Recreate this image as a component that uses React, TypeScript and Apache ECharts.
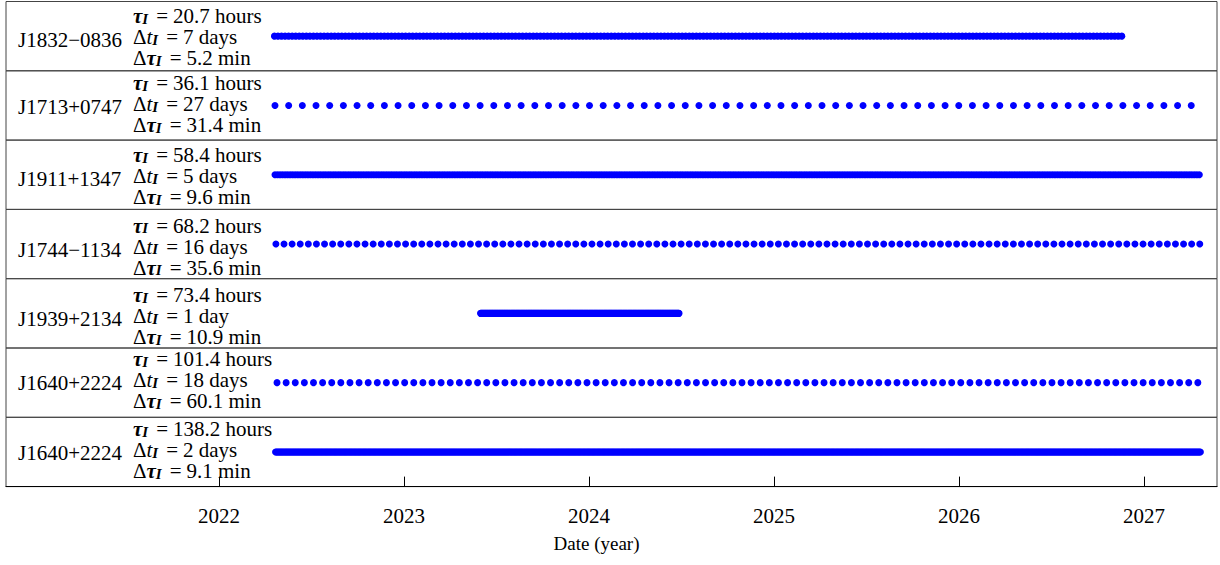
import React, { useEffect, useRef } from "react";
import * as echarts from "echarts";

// ---- data ----
const pulsars = ["J1832−0836", "J1713+0747", "J1911+1347", "J1744−1134", "J1939+2134", "J1640+2224", "J1640+2224"];
const tauHours = ["20.7", "36.1", "58.4", "68.2", "73.4", "101.4", "138.2"];
const cadenceDays = [7, 27, 5, 16, 1, 18, 2];
const cadenceText = ["7 days", "27 days", "5 days", "16 days", "1 day", "18 days", "2 days"];
const dTauMin = ["5.2", "31.4", "9.6", "35.6", "10.9", "60.1", "9.1"];
const startYear = [2022.3, 2022.303, 2022.303, 2022.308, 2023.414, 2022.314, 2022.306];
const endYear = [2026.895, 2027.303, 2027.305, 2027.305, 2024.489, 2027.305, 2027.31];
const tickYears = [2022, 2023, 2024, 2025, 2026, 2027];
const xMin = 2020.849;
const xMax = 2027.395;

// ---- layout ----
const FONT = "Liberation Serif";
const FS = 21;
const LH = 20;
const GRID_LEFT = 6;
const GRID_RIGHT = 3;
const TOP0 = 1.5;
const ROW_H = 69.3;
const textMidY = [37.3, 104, 176, 246.7, 316, 380, 450];

function schedule(i: number): number[][] {
  const pts: number[][] = [];
  const step = cadenceDays[i] / 365.25;
  for (let t = startYear[i]; t <= endYear[i] + 1e-9; t += step) {
    pts.push([t, 0.5]);
  }
  return pts;
}

export default function App() {
  const ref = useRef<HTMLDivElement>(null);
  useEffect(() => {
    if (!ref.current) return;
    const chart = echarts.init(ref.current, null, { renderer: "svg" });
    const n = pulsars.length;
    const grids: any[] = [];
    const xAxes: any[] = [];
    const yAxes: any[] = [];
    const series: any[] = [];
    for (let i = 0; i < n; i++) {
      const last = i === n - 1;
      grids.push({
        left: GRID_LEFT,
        right: GRID_RIGHT,
        top: TOP0 + i * ROW_H,
        height: ROW_H,
        show: true,
        borderColor: "#444",
        borderWidth: 1,
        containLabel: false,
      });
      xAxes.push({
        type: "value",
        gridIndex: i,
        min: xMin,
        max: xMax,
        splitLine: { show: false },
        axisLine: { show: last, lineStyle: { color: "#000", width: 1.2 } },
        axisTick: {
          show: last,
          inside: true,
          length: 10,
          customValues: tickYears,
          lineStyle: { color: "#000", width: 1 },
        },
        axisLabel: {
          show: last,
          customValues: tickYears,
          margin: 19,
          fontSize: FS,
          fontFamily: FONT,
          color: "#000",
          formatter: (v: number) => String(Math.round(v)),
        },
        name: last ? "Date (year)" : "",
        nameLocation: "middle",
        nameGap: 47,
        nameTextStyle: { fontSize: 19, fontFamily: FONT, color: "#000", padding: [0, 30, 0, 0] },
      });
      yAxes.push({ type: "value", gridIndex: i, min: 0, max: 1, show: false });
      series.push({
        type: "scatter",
        xAxisIndex: i,
        yAxisIndex: i,
        data: schedule(i),
        symbol: "circle",
        symbolSize: 7,
        itemStyle: { color: "#0000ff", opacity: 1 },
        silent: true,
      });
    }

    const rich = {
      tau: { fontSize: FS, fontFamily: FONT, fontStyle: "italic", fontWeight: "bold", fill: "#000", lineHeight: LH },
      it: { fontSize: FS, fontFamily: FONT, fontStyle: "italic", fill: "#000", lineHeight: LH },
      sub: {
        fontSize: 15,
        fontFamily: FONT,
        fontStyle: "italic",
        fontWeight: "bold",
        fill: "#000",
        verticalAlign: "bottom",
        lineHeight: 15,
        padding: [8, 0, 0, 0],
      },
      eq: { fontSize: FS, fontFamily: FONT, fill: "#000", lineHeight: LH, padding: [0, 5, 0, 8] },
      n: { fontSize: FS, fontFamily: FONT, fill: "#000", lineHeight: LH },
    };
    const graphics: any[] = [];
    for (let i = 0; i < n; i++) {
      const y = textMidY[i];
      graphics.push({
        type: "text",
        x: 18,
        y: y + 3,
        silent: true,
        style: { text: pulsars[i], fontSize: FS, fontFamily: FONT, fill: "#000", align: "left", verticalAlign: "middle" },
      });
      const lines = [
        `{tau|τ}{sub|I}{eq|=}{n|${tauHours[i]} hours}`,
        `{n|Δ}{it|t}{sub|I}{eq|=}{n|${cadenceText[i]}}`,
        `{n|Δ}{tau|τ}{sub|I}{eq|=}{n|${dTauMin[i]} min}`,
      ];
      const offs = [-21, 0, 21];
      lines.forEach((t, k) => {
        graphics.push({
          type: "text",
          x: 133,
          y: y + offs[k],
          silent: true,
          style: { text: t, rich, fontSize: FS, fontFamily: FONT, fill: "#000", align: "left", verticalAlign: "middle" },
        });
      });
    }

    chart.setOption({
      animation: false,
      backgroundColor: "#fff",
      grid: grids,
      xAxis: xAxes,
      yAxis: yAxes,
      series,
      graphic: graphics,
    });
    return () => chart.dispose();
  }, []);
  return <div ref={ref} style={{ position: "fixed", left: 0, top: 0, width: 1220, height: 565 }} />;
}
